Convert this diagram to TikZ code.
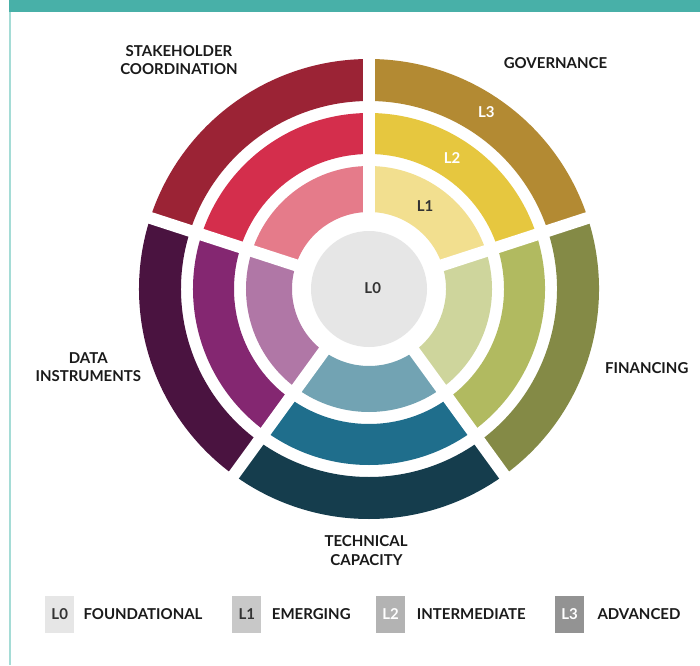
\documentclass[tikz,border=0pt]{standalone}
\usepackage{fontspec}
\setmainfont{Lato}
\definecolor{tealbar}{HTML}{48B0A8}
\definecolor{tealline}{HTML}{A5DCD6}
\definecolor{govA}{HTML}{F2DF8F}
\definecolor{govB}{HTML}{E6C73F}
\definecolor{govC}{HTML}{B38A33}
\definecolor{staA}{HTML}{E57B8A}
\definecolor{staB}{HTML}{D42E4C}
\definecolor{staC}{HTML}{9B2335}
\definecolor{datA}{HTML}{B077A6}
\definecolor{datB}{HTML}{842771}
\definecolor{datC}{HTML}{4A1340}
\definecolor{tecA}{HTML}{72A3B3}
\definecolor{tecB}{HTML}{1F6E8C}
\definecolor{tecC}{HTML}{153D4D}
\definecolor{finA}{HTML}{CED59C}
\definecolor{finB}{HTML}{B1BA60}
\definecolor{finC}{HTML}{848A46}
\definecolor{lvlzero}{HTML}{E6E6E6}
\definecolor{lvlone}{HTML}{C8C8C8}
\definecolor{lvltwo}{HTML}{B3B3B3}
\definecolor{lvlthree}{HTML}{939393}
\definecolor{darktext}{HTML}{1A1A1A}
\definecolor{graytext}{HTML}{333333}
\newcommand\mysector[5]{\fill[#5] (#1:#3) arc[start angle=#1, end angle=#2, radius=#3] -- (#2:#4) arc[start angle=#2, end angle=#1, radius=#4] -- cycle;}
\tikzset{
  title/.style={font=\fontsize{15}{18}\selectfont\bfseries, text=darktext, inner sep=0pt, anchor=base},
  legtext/.style={font=\fontsize{15}{18}\selectfont\bfseries, text=darktext, inner sep=0pt, anchor=base west},
  lvl/.style={font=\fontsize{15}{18}\selectfont\bfseries, inner sep=0pt, anchor=base},
  legbox/.style={minimum width=29pt, minimum height=37pt, inner sep=0pt, draw=none}
}
\begin{document}
\begin{tikzpicture}[x=1pt,y=1pt]
\useasboundingbox (0,0) rectangle (700,665);
\fill[white] (0,0) rectangle (700,665);
\fill[tealbar] (9,653) rectangle (700,665);
\fill[tealline] (9,0) rectangle (11,653);
\begin{scope}[shift={(369,376)}]
  % governance
  \mysector{18}{90}{77}{123}{govA}
  \mysector{18}{90}{135}{176}{govB}
  \mysector{18}{90}{188}{230}{govC}
  % stakeholder
  \mysector{90}{162}{77}{123}{staA}
  \mysector{90}{162}{135}{176}{staB}
  \mysector{90}{162}{188}{230}{staC}
  % data
  \mysector{162}{234}{77}{123}{datA}
  \mysector{162}{234}{135}{176}{datB}
  \mysector{162}{234}{188}{230}{datC}
  % technical
  \mysector{234}{306}{77}{123}{tecA}
  \mysector{234}{306}{135}{176}{tecB}
  \mysector{234}{306}{188}{230}{tecC}
  % financing
  \mysector{306}{378}{77}{123}{finA}
  \mysector{306}{378}{135}{176}{finB}
  \mysector{306}{378}{188}{230}{finC}
  \foreach \a in {18,90,162,234,306}
    \draw[white, line width=12pt] (0,0) -- (\a:245);
  \fill[lvlzero] (0,0) circle[radius=58];
\end{scope}
% level labels
\node[lvl, text=graytext] (l0) at (372.7,371.7) {L0};
\node[lvl, text=graytext] (l1) at (425,453.3) {L1};
\node[lvl, text=white] (l2) at (452,501.7) {L2};
\node[lvl, text=white] (l3) at (486.3,547.7) {L3};
% titles
\node[title] (st1) at (179,608) {STAKEHOLDER};
\node[title] (st2) at (179,590.3) {COORDINATION};
\node[title] (gov) at (555.5,596.7) {GOVERNANCE};
\node[title] (fin) at (646.7,291.7) {FINANCING};
\node[title] (da1) at (88.3,301.7) {DATA};
\node[title] (da2) at (88.3,283.3) {INSTRUMENTS};
\node[title] (tc1) at (366,118.3) {TECHNICAL};
\node[title] (tc2) at (366.5,100) {CAPACITY};
% legend
\node[legbox, fill=lvlzero] (b0) at (59.5,50.5) {};
\node[legbox, fill=lvlone] (b1) at (246.8,50.5) {};
\node[legbox, fill=lvltwo] (b2) at (390.5,50.5) {};
\node[legbox, fill=lvlthree] (b3) at (569.5,50.5) {};
\node[lvl, text=graytext] (t0) at (59.7,46) {L0};
\node[lvl, text=graytext] (t1) at (246.8,46) {L1};
\node[lvl, text=white] (t2) at (390.5,46) {L2};
\node[lvl, text=white] (t3) at (569.5,46) {L3};
\node[legtext] (n0) at (83.3,46) {FOUNDATIONAL};
\node[legtext] (n1) at (271.7,46) {EMERGING};
\node[legtext] (n2) at (416.7,46) {INTERMEDIATE};
\node[legtext] (n3) at (597.3,46) {ADVANCED};
\end{tikzpicture}
\end{document}
